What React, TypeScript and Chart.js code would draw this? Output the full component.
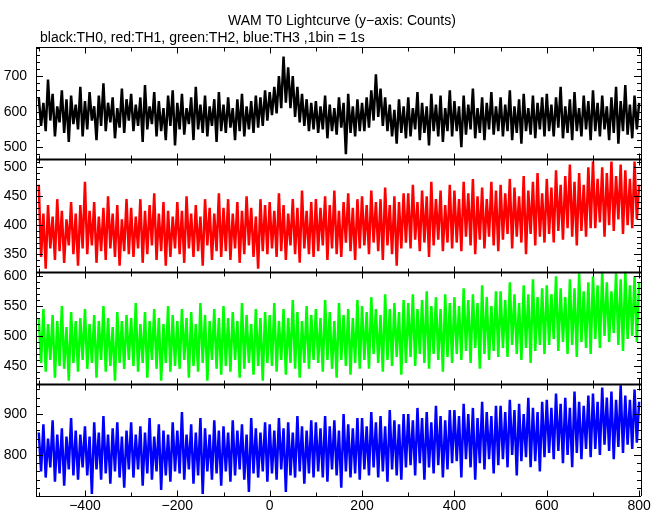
import React, { useEffect, useRef } from "react";
import { Chart, registerables } from "chart.js";
Chart.register(...registerables);

const TITLE = "WAM T0 Lightcurve (y\u2212axis: Counts)";
const SUBTITLE = "black:TH0, red:TH1, green:TH2, blue:TH3 ,1bin = 1s";

// time axis: samples every 5 s starting at -500 s
const T_START = -500;
const T_STEP = 5;
const X_MIN = -506;
const X_MAX = 804;
const X_TICKS = [-400, -200, 0, 200, 400, 600, 800];

// TH0 (black), counts, -500 .. 800 s (alternating local highs / lows)
const TH0 = [
  640, 560, 625, 545, 690, 575, 650, 530, 615, 570, 660, 540, 635, 515, 645, 565, 620, 550, 670, 530,
  630, 550, 655, 575, 615, 520, 645, 560, 680, 545, 625, 570, 640, 525, 610, 555, 665, 540, 635, 575,
  650, 545, 620, 560, 640, 515, 675, 550, 615, 565, 655, 530, 630, 545, 610, 520, 645, 560, 660, 505,
  625, 550, 650, 535, 610, 565, 640, 520, 670, 550, 620, 540, 645, 530, 615, 560, 635, 515, 655, 545,
  620, 540, 640, 555, 610, 520, 635, 545, 650, 530, 615, 550, 630, 540, 645, 555, 640, 560, 660, 575,
  655, 590, 670, 595, 700, 610, 755, 625, 725, 610, 700, 585, 670, 570, 650, 560, 635, 545, 625, 550,
  630, 540, 615, 550, 645, 525, 620, 545, 610, 535, 640, 555, 625, 480, 650, 540, 615, 530, 635, 545,
  625, 545, 640, 555, 660, 575, 705, 585, 665, 560, 640, 545, 620, 530, 605, 510, 635, 540, 615, 525,
  640, 530, 610, 550, 655, 520, 625, 540, 615, 505, 650, 545, 620, 530, 645, 515, 610, 545, 660, 530,
  630, 545, 615, 500, 645, 535, 620, 550, 665, 525, 610, 540, 640, 520, 625, 550, 655, 535, 615, 545,
  640, 530, 620, 545, 660, 520, 615, 540, 635, 510, 650, 545, 610, 535, 645, 525, 625, 550, 640, 530,
  650, 545, 620, 530, 640, 555, 670, 525, 615, 540, 635, 520, 655, 545, 610, 530, 645, 550, 630, 520,
  660, 545, 625, 530, 645, 550, 615, 520, 640, 540, 670, 510, 630, 545, 675, 535, 620, 525, 645, 550,
  625,
];

// TH1 (red)
const TH1 = [
  470, 345, 420, 325, 435, 360, 415, 340, 445, 355, 425, 335, 410, 365, 440, 350, 420, 330, 435, 360,
  475, 350, 425, 365, 440, 335, 415, 355, 430, 340, 450, 360, 420, 345, 435, 330, 410, 355, 445, 350,
  430, 345, 415, 360, 445, 335, 425, 350, 435, 365, 455, 340, 420, 355, 440, 330, 425, 345, 415, 360,
  440, 350, 425, 335, 450, 360, 420, 345, 435, 355, 415, 330, 445, 365, 430, 340, 420, 355, 455, 345,
  430, 355, 445, 340, 420, 360, 440, 335, 425, 350, 450, 365, 430, 345, 415, 325, 445, 355, 435, 350,
  440, 360, 425, 345, 455, 355, 435, 340, 420, 365, 445, 350, 430, 335, 460, 360, 425, 350, 440, 345,
  445, 355, 430, 365, 450, 340, 435, 360, 460, 350, 425, 345, 440, 370, 455, 355, 430, 340, 445, 360,
  450, 365, 435, 350, 460, 370, 440, 355, 445, 340, 465, 365, 435, 350, 450, 330, 440, 360, 455, 370,
  455, 360, 470, 375, 440, 355, 460, 370, 450, 345, 475, 365, 445, 375, 460, 355, 435, 370, 470, 360,
  460, 370, 445, 355, 475, 380, 455, 365, 480, 350, 450, 375, 465, 360, 445, 380, 475, 365, 460, 355,
  470, 375, 455, 385, 480, 360, 465, 380, 450, 370, 485, 350, 460, 385, 475, 365, 490, 380, 455, 370,
  480, 385, 465, 370, 495, 390, 470, 375, 485, 395, 505, 380, 475, 365, 490, 390, 470, 380, 500, 395,
  510, 395, 480, 405, 500, 380, 490, 400, 510, 390, 485, 410, 505, 385, 495, 400, 480, 395, 510, 410,
  470,
];

// TH2 (green)
const TH2 = [
  530, 455, 545, 440, 520, 460, 535, 430, 525, 450, 550, 445, 515, 425, 540, 455, 525, 440, 530, 460,
  545, 445, 520, 455, 535, 430, 525, 460, 550, 440, 530, 450, 515, 425, 540, 455, 525, 445, 535, 460,
  530, 450, 555, 440, 520, 455, 540, 430, 525, 460, 545, 445, 530, 425, 520, 455, 550, 440, 535, 450,
  525, 445, 545, 460, 530, 430, 540, 450, 520, 440, 555, 455, 535, 425, 525, 460, 545, 445, 530, 435,
  550, 450, 530, 440, 540, 460, 525, 430, 555, 445, 535, 455, 520, 435, 545, 450, 530, 425, 540, 455,
  535, 450, 555, 440, 525, 460, 545, 435, 530, 455, 560, 445, 540, 430, 525, 455, 550, 445, 535, 460,
  545, 455, 530, 440, 560, 460, 540, 445, 525, 430, 555, 460, 535, 450, 545, 435, 530, 455, 560, 445,
  550, 460, 540, 445, 565, 470, 545, 455, 535, 440, 570, 460, 545, 450, 555, 465, 540, 435, 560, 455,
  555, 465, 570, 450, 545, 470, 560, 455, 575, 445, 550, 470, 565, 460, 545, 440, 570, 465, 555, 455,
  565, 470, 550, 460, 580, 475, 560, 455, 570, 480, 555, 445, 585, 470, 565, 460, 550, 475, 575, 465,
  575, 480, 560, 465, 590, 485, 570, 470, 555, 460, 585, 480, 570, 455, 595, 475, 565, 485, 580, 470,
  585, 485, 570, 495, 600, 475, 580, 490, 565, 470, 595, 485, 580, 465, 605, 490, 575, 480, 590, 470,
  600, 495, 585, 480, 608, 500, 590, 490, 575, 505, 605, 485, 595, 475, 608, 495, 585, 500, 600, 490,
  590,
];

// TH3 (blue)
const TH3 = [
  855, 760, 875, 745, 840, 770, 885, 735, 850, 755, 865, 725, 845, 765, 890, 750, 860, 740, 850, 770,
  870, 750, 845, 705, 880, 765, 855, 740, 895, 755, 850, 730, 865, 760, 880, 745, 845, 720, 860, 765,
  880, 745, 850, 765, 870, 725, 855, 755, 890, 740, 845, 760, 875, 715, 860, 750, 850, 735, 880, 760,
  860, 755, 905, 740, 850, 765, 875, 730, 855, 750, 890, 705, 865, 760, 850, 740, 885, 755, 860, 725,
  870, 760, 855, 735, 885, 750, 860, 765, 875, 740, 850, 710, 890, 755, 865, 745, 855, 760, 880, 735,
  875, 755, 860, 740, 890, 765, 865, 710, 880, 750, 855, 745, 895, 760, 870, 730, 860, 755, 885, 745,
  880, 760, 865, 745, 895, 735, 870, 765, 885, 750, 860, 720, 900, 760, 875, 745, 865, 755, 890, 740,
  890, 765, 870, 750, 905, 770, 880, 745, 895, 760, 870, 735, 910, 765, 885, 750, 875, 740, 900, 770,
  900, 775, 885, 750, 915, 780, 890, 740, 905, 770, 880, 755, 920, 775, 895, 745, 885, 765, 910, 780,
  910, 785, 895, 745, 925, 790, 900, 770, 915, 740, 890, 780, 930, 765, 905, 790, 895, 755, 920, 775,
  920, 790, 905, 770, 935, 800, 910, 750, 925, 785, 900, 795, 940, 770, 915, 785, 905, 760, 930, 795,
  935, 805, 915, 790, 950, 810, 925, 780, 940, 800, 915, 770, 955, 805, 930, 790, 920, 815, 945, 795,
  950, 815, 930, 800, 965, 825, 940, 810, 955, 790, 935, 820, 970, 805, 945, 825, 935, 815, 960, 830,
  930,
];

const SERIES = [
  { id: "y0", label: "TH0", values: TH0, color: "#000000", min: 466, max: 782, ticks: [500, 600, 700], minor: 20, major: 100 },
  { id: "y1", label: "TH1", values: TH1, color: "#ff0000", min: 320, max: 514, ticks: [350, 400, 450, 500], minor: 10, major: 50 },
  { id: "y2", label: "TH2", values: TH2, color: "#00ff00", min: 420, max: 608, ticks: [450, 500, 550, 600], minor: 10, major: 50 },
  { id: "y3", label: "TH3", values: TH3, color: "#0000ff", min: 700, max: 974, ticks: [800, 900], minor: 20, major: 100 },
];

const FONT = "'Liberation Sans', Arial, Helvetica, sans-serif";
const fmt = (v: number) => (v < 0 ? "\u2212" + Math.abs(v) : String(v));

const framePlugin = {
  id: "frameTicks",
  afterDatasetsDraw(chart: any) {
    const { ctx, chartArea: a } = chart;
    const xs = chart.scales.x;
    ctx.save();
    ctx.strokeStyle = "#000";
    const seg = (x1: number, y1: number, x2: number, y2: number, w = 1) => {
      ctx.lineWidth = w;
      ctx.beginPath();
      ctx.moveTo(x1, y1);
      ctx.lineTo(x2, y2);
      ctx.stroke();
    };
    // y ticks
    SERIES.forEach((s) => {
      const sc = chart.scales[s.id];
      for (let v = Math.ceil(sc.min / s.minor) * s.minor; v <= sc.max; v += s.minor) {
        const y = Math.round(sc.getPixelForValue(v)) + 0.5;
        const len = v % s.major === 0 ? 7 : 4;
        seg(a.left, y, a.left + len, y);
        seg(a.right - len, y, a.right, y);
      }
    });
    // horizontal lines with x ticks
    const bounds: number[] = [a.top];
    SERIES.forEach((s) => bounds.push(chart.scales[s.id].bottom));
    bounds.forEach((yb, idx) => {
      const y = Math.round(yb) + 0.5;
      const inner = idx > 0 && idx < bounds.length - 1;
      seg(a.left, y, a.right, y, inner ? 2 : 1);
      for (let v = -500; v <= 800; v += 100) {
        const x = Math.round(xs.getPixelForValue(v)) + 0.5;
        const len = v % 200 === 0 ? 6 : 4;
        if (idx < bounds.length - 1) seg(x, y, x, y + len);
        if (idx > 0) seg(x, y, x, y - len);
      }
    });
    // vertical frame
    seg(Math.round(a.left) + 0.5, a.top, Math.round(a.left) + 0.5, a.bottom);
    seg(Math.round(a.right) + 0.5, a.top, Math.round(a.right) + 0.5, a.bottom);
    // titles
    ctx.fillStyle = "#000";
    ctx.font = "14px " + FONT;
    ctx.textBaseline = "alphabetic";
    ctx.textAlign = "center";
    ctx.fillText(TITLE, 342, 25);
    ctx.textAlign = "left";
    ctx.fillText(SUBTITLE, 40, 42);
    ctx.restore();
  },
};

export default function App() {
  const ref = useRef<HTMLCanvasElement | null>(null);
  useEffect(() => {
    if (!ref.current) return;
    const scales: any = {
      x: {
        type: "linear",
        min: X_MIN,
        max: X_MAX,
        position: "bottom",
        grid: { display: false, drawTicks: false },
        border: { display: false },
        afterBuildTicks: (sc: any) => {
          sc.ticks = X_TICKS.map((v) => ({ value: v }));
        },
        afterFit: (sc: any) => {
          sc.height = 19;
        },
        ticks: {
          color: "#000",
          font: { family: FONT, size: 14 },
          padding: 2,
          maxRotation: 0,
          autoSkip: false,
          callback: (v: any) => fmt(Number(v)),
        },
      },
    };
    // bottom panel first: stacked left axes are placed top-down in reverse order
    [...SERIES].reverse().forEach((s) => {
      scales[s.id] = {
        type: "linear",
        position: "left",
        stack: "panels",
        stackWeight: 1,
        min: s.min,
        max: s.max,
        grid: { display: false, drawTicks: false },
        border: { display: false },
        afterBuildTicks: (sc: any) => {
          sc.ticks = s.ticks.map((v) => ({ value: v }));
        },
        afterFit: (sc: any) => {
          sc.width = 36;
        },
        ticks: {
          color: "#000",
          font: { family: FONT, size: 14 },
          padding: 9,
          autoSkip: false,
          callback: (v: any) => fmt(Number(v)),
        },
      };
    });
    const chart = new Chart(ref.current, {
      type: "line",
      data: {
        datasets: SERIES.map((s) => ({
          label: s.label,
          yAxisID: s.id,
          xAxisID: "x",
          data: s.values.map((v, i) => ({ x: T_START + i * T_STEP, y: v })),
          borderColor: s.color,
          backgroundColor: s.color,
          borderWidth: 2.5,
          borderJoinStyle: "bevel",
          pointRadius: 0,
          tension: 0,
          fill: false,
          clip: 0,
        })),
      },
      options: {
        responsive: false,
        animation: false,
        events: [],
        layout: { padding: { top: 47, left: 0, right: 24, bottom: 0 } },
        plugins: { legend: { display: false }, title: { display: false }, tooltip: { enabled: false } },
        scales,
      },
      plugins: [framePlugin],
    });
    return () => chart.destroy();
  }, []);
  return (
    <div style={{ position: "absolute", left: 0, top: 0, width: 665, height: 515, background: "#fff" }}>
      <canvas ref={ref} width={665} height={515} style={{ display: "block" }} />
    </div>
  );
}
